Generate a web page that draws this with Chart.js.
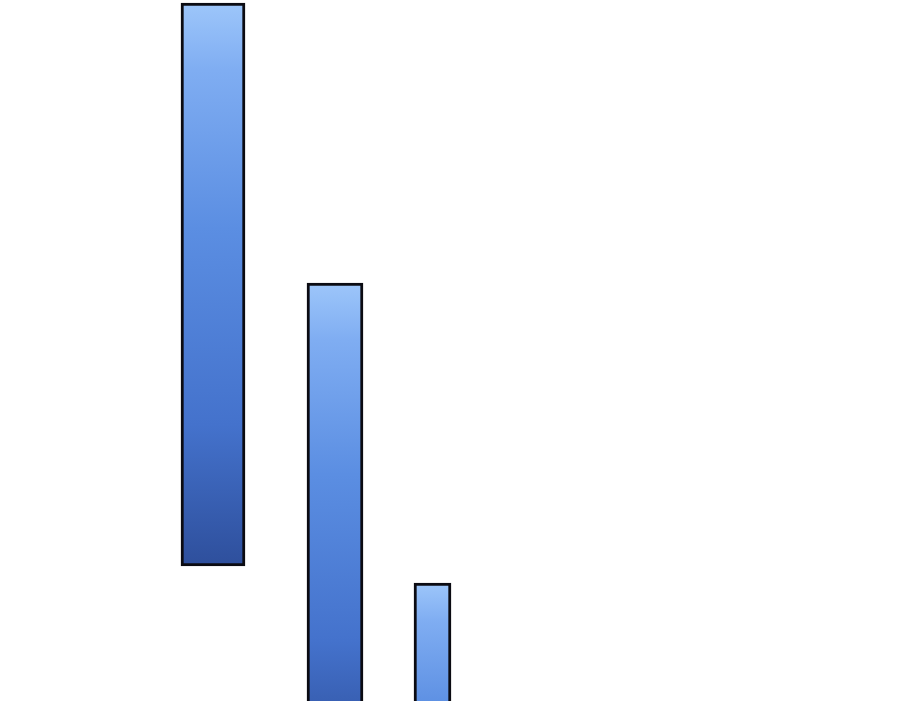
<!DOCTYPE html>
<html>
<head>
<meta charset="utf-8">
<script src="https://cdn.jsdelivr.net/npm/chart.js@4"></script>
<style>
  html, body { margin: 0; padding: 0; background: #fff; }
  #wrap { width: 900px; height: 701px; }
</style>
</head>
<body>
<div id="wrap"><canvas id="myChart"></canvas></div>
<script>
// bar data (x in hundreds of px-units, y floating ranges)
const labels = ['A', 'B', 'C'];
const xPos = [2.13, 3.35, 4.325];
const lows = [1.35, -0.6, -2.0];
const highs = [6.98, 4.18, 1.18];

const thickness = [64, 56, 37];

function gradFill(ctx) {
  const chart = ctx.chart;
  if (!chart.chartArea || ctx.type !== 'data') return '#5b8ee0';
  const v = ctx.raw.y;
  const ys = chart.scales.y;
  const top = ys.getPixelForValue(Math.max(v[0], v[1]));
  const bot = ys.getPixelForValue(Math.min(v[0], v[1]));
  const g = chart.ctx.createLinearGradient(0, top, 0, bot);
  g.addColorStop(0, '#9dc6fa');
  g.addColorStop(0.12, '#7fadf2');
  g.addColorStop(0.4, '#5b8ee2');
  g.addColorStop(0.75, '#4472cc');
  g.addColorStop(1, '#2e4f9c');
  return g;
}

const datasets = labels.map((l, i) => ({
  label: l,
  data: [{ x: xPos[i], y: [lows[i], highs[i]] }],
  backgroundColor: gradFill,
  borderColor: '#0b0b12',
  borderWidth: 3,
  borderSkipped: false,
  barThickness: thickness[i],
  grouped: false
}));

const ctx = document.getElementById('myChart');
new Chart(ctx, {
  type: 'bar',
  data: { datasets: datasets },
  options: {
    responsive: true,
    maintainAspectRatio: false,
    animation: false,
    layout: { padding: 0 },
    plugins: { legend: { display: false }, tooltip: { enabled: false } },
    scales: {
      x: { type: 'linear', min: 0, max: 9, offset: false, display: false },
      y: { min: 0, max: 7.01, display: false }
    }
  }
});
</script>
</body>
</html>
